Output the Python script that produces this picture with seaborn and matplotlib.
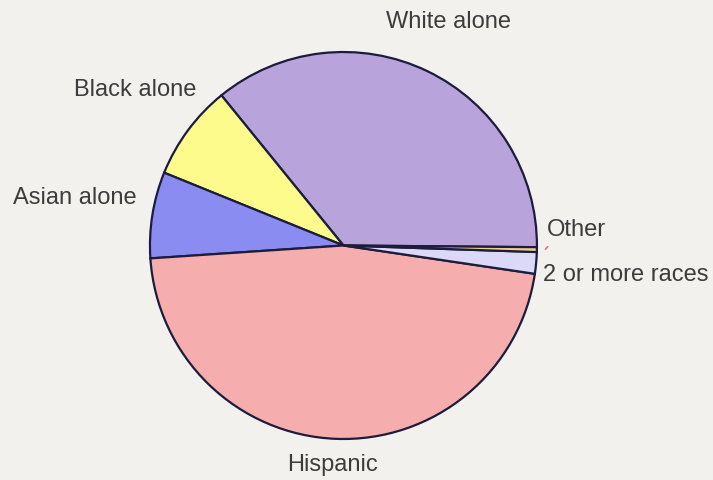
import matplotlib
matplotlib.use("Agg")
import matplotlib.pyplot as plt
import seaborn as sns

categories = ["White alone", "Black alone", "Asian alone", "Hispanic", "2 or more races", "Other"]
values = [36.0, 8.0, 7.2, 46.6, 1.8, 0.4]
colors = ["#b9a3db", "#fdfb8c", "#8b8cf2", "#f6adad", "#dcd8f8", "#e8d488"]

sns.set_theme(style="white")
plt.rcParams['font.family'] = ['Liberation Sans', 'DejaVu Sans']
bg = "#f3f1ee"

fig = plt.figure(figsize=(7.13, 4.81), dpi=100, facecolor=bg)
ax = fig.add_axes([0, 0, 1, 1])
ax.set_facecolor(bg)
palette = sns.color_palette(colors)

wedges, _ = ax.pie(values, colors=palette, startangle=-0.5, counterclock=True,
                   wedgeprops=dict(edgecolor="#1c1c3c", linewidth=1.6))
ax.set_xlim(-1.775, 1.910)
ax.set_ylim(-1.212, 1.274)
ax.axis("off")

txt = dict(fontsize=17, color="#3c3c3c", va="center")
label_pos = {
    "White alone": (0.545, 1.160, "center"),
    "Black alone": (-1.078, 0.809, "center"),
    "Asian alone": (-1.390, 0.251, "center"),
    "Other": (1.052, 0.085, "left"),
    "2 or more races": (1.031, -0.147, "left"),
    "Hispanic": (-0.059, -1.129, "center"),
}
for name in categories:
    x, y, ha = label_pos[name]
    ax.text(x, y, name, ha=ha, **txt)

ax.annotate("", xy=(1.035, -0.03), xytext=(1.065, 0.005),
            arrowprops=dict(arrowstyle="-", color="#e07080", lw=1.2))

fig.savefig("out.png", dpi=100, facecolor=bg)
